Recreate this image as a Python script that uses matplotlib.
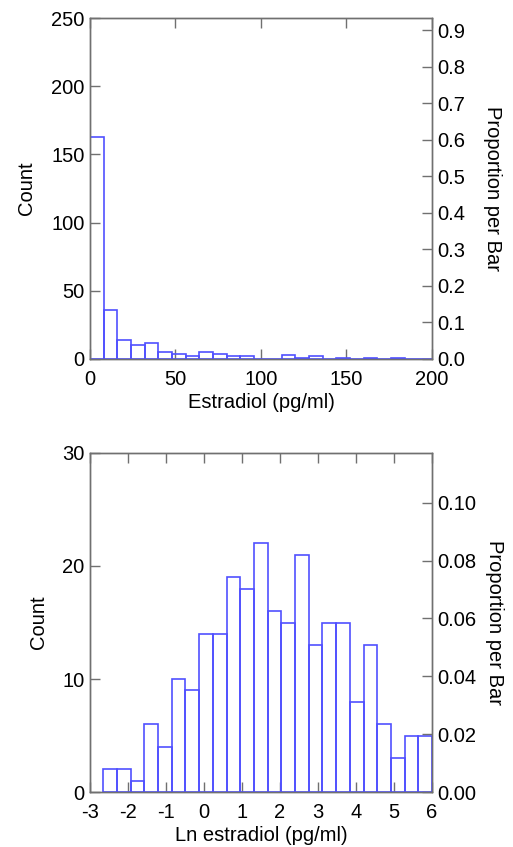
import numpy as np
import matplotlib
matplotlib.use("Agg")
import matplotlib.pyplot as plt

plt.rcParams['font.family'] = ['Liberation Sans', 'DejaVu Sans']
plt.rcParams['axes.unicode_minus'] = False

# ---- data ----
# top: estradiol, bins of 8 pg/ml from 0 to 200
estradiol_edges = np.arange(0, 201, 8)
estradiol_counts = [163, 36, 14, 10, 12, 5, 4, 2, 5, 4, 2, 2, 0,
                    0, 3, 1, 2, 0, 1, 0, 1, 0, 1, 0, 0]

# bottom: ln estradiol, 24 bins
ln_start = -2.65
ln_width = 0.3604
ln_counts = [2, 2, 1, 6, 4, 10, 9, 14, 14, 19, 18, 22,
             16, 15, 21, 13, 15, 15, 8, 13, 6, 3, 5, 5]

BAR_COLOR = "#5050ff"
SPINE_COLOR = "#707070"
FS = 14.5


def style_axes(ax):
    for s in ax.spines.values():
        s.set_color(SPINE_COLOR)
        s.set_linewidth(1.0)
    ax.tick_params(direction="in", length=7, width=1, color=SPINE_COLOR,
                   labelsize=FS, pad=4)
    ax.tick_params(axis="x", pad=8)


def draw_hist(ax, edges, counts, xlim, ylim, yticks, xticks, xlabel,
              prop_ticks, prop_fmt, left_pad, right_pad):
    edges = np.asarray(edges)
    ax.bar(edges[:-1], counts, width=np.diff(edges), align="edge",
           facecolor="none", edgecolor=BAR_COLOR, linewidth=1.2, zorder=3)
    ax.set_xlim(*xlim)
    ax.set_ylim(*ylim)
    ax.set_xticks(xticks)
    ax.set_yticks(yticks)
    ax.set_xlabel(xlabel, fontsize=FS, labelpad=3)
    ax.set_ylabel("Count", fontsize=FS, labelpad=left_pad)
    style_axes(ax)
    ax.tick_params(axis="x", top=True, labeltop=False)

    total = sum(counts)
    ax2 = ax.twinx()
    ax2.set_ylim(ylim[0] / total, ylim[1] / total)
    ax2.set_yticks(prop_ticks)
    ax2.set_yticklabels([prop_fmt.format(t) for t in prop_ticks])
    ax2.set_ylabel("Proportion per Bar", fontsize=FS, rotation=270,
                   labelpad=right_pad)
    style_axes(ax2)
    return ax2


fig = plt.figure(figsize=(5.13, 8.47), dpi=100)

ax_top = fig.add_axes([0.1754, 0.5762, 0.6667, 0.4025])
draw_hist(ax_top, estradiol_edges, estradiol_counts, (0, 200), (0, 250),
          [0, 50, 100, 150, 200, 250], [0, 50, 100, 150, 200],
          "Estradiol (pg/ml)", np.arange(0, 0.91, 0.1), "{:.1f}", 11, 26)

ln_edges = ln_start + ln_width * np.arange(len(ln_counts) + 1)
ax_bot = fig.add_axes([0.1754, 0.0649, 0.6667, 0.4003])
draw_hist(ax_bot, ln_edges, ln_counts, (-3, 6), (0, 30),
          [0, 10, 20, 30], list(range(-3, 7)),
          "Ln estradiol (pg/ml)", np.arange(0, 0.101, 0.02), "{:.2f}", 10, 20)

fig.savefig("out.png", dpi=100)
